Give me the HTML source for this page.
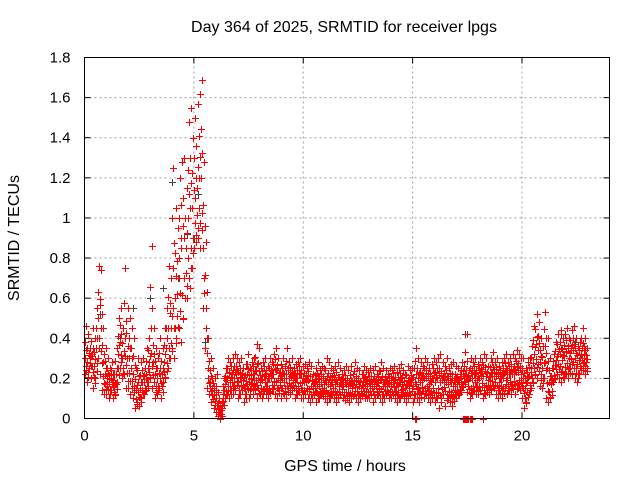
<!DOCTYPE html>
<html><head><meta charset="utf-8"><style>
body{margin:0;background:#fff}
svg{display:block;font-family:"Liberation Sans",sans-serif}
</style></head><body>
<svg id="chart" width="640" height="480" viewBox="0 0 640 480">
<rect width="640" height="480" fill="#fff"/>
<text x="344" y="32" font-size="16" text-anchor="middle">Day 364 of 2025, SRMTID for receiver lpgs</text>
<text x="19" y="238" font-size="16" text-anchor="middle" transform="rotate(-90 19 238)">SRMTID / TECUs</text>
<text x="345" y="471" font-size="16" text-anchor="middle">GPS time / hours</text>
<g id="grid"></g>
<g id="ticks"></g>
<g id="marks"></g>
<rect x="84.5" y="57.5" width="525" height="361" fill="none" stroke="#000" stroke-width="1"/>
</svg>
<script>
const xTicks=[0,5,10,15,20];
const yTicks=[0,0.2,0.4,0.6,0.8,1,1.2,1.4,1.6,1.8];
const yTickLabels=["0","0.2","0.4","0.6","0.8","1","1.2","1.4","1.6","1.8"];
const binHours=0.1;
const hiVals=[.46,.42,.35,.45,.40,.55,.76,.74,.45,.35,.30,.25,.28,.22,.35,.50,.55,.45,.75,.55,.50,.45,.40,.25,.30,.28,.30,.25,.35,.40,.86,.45,.35,.30,.40,.35,.45,.55,.76,.70,1.25,1.05,.95,1.20,1.28,1.30,1.15,1.48,1.55,1.40,1.50,1.57,1.62,1.69,1.28,.88,.40,.30,.25,.20,.22,.10,.08,.20,.25,.30,.28,.30,.32,.30,.28,.30,.25,.27,.32,.25,.28,.30,.37,.35,.25,.28,.30,.26,.30,.28,.32,.35,.30,.27,.30,.26,.35,.28,.30,.25,.27,.28,.30,.26,.27,.25,.28,.26,.22,.25,.28,.24,.26,.25,.30,.28,.25,.24,.26,.28,.25,.22,.24,.26,.24,.26,.22,.28,.25,.24,.22,.26,.24,.23,.25,.24,.26,.22,.24,.28,.25,.24,.22,.25,.24,.26,.23,.25,.27,.24,.22,.26,.24,.25,.25,.35,.30,.28,.26,.30,.28,.25,.27,.30,.28,.30,.32,.28,.26,.30,.25,.27,.28,.26,.25,.22,.28,.26,.42,.24,.30,.28,.30,.27,.30,.28,.32,.30,.26,.30,.33,.28,.30,.26,.28,.30,.32,.28,.30,.32,.30,.34,.32,.30,.30,.25,.28,.30,.36,.46,.52,.48,.40,.36,.53,.40,.30,.25,.32,.38,.42,.44,.40,.42,.45,.40,.44,.46,.40,.36,.38,.45,.40,.35];
const midVals=[.30,.28,.30,.32,.26,.35,.50,.45,.28,.22,.20,.18,.20,.16,.22,.32,.38,.30,.40,.30,.30,.25,.22,.14,.18,.15,.18,.18,.22,.28,.45,.28,.22,.20,.25,.22,.28,.35,.45,.45,.75,.60,.62,.80,.85,.90,.85,1.00,1.05,1.05,1.10,1.15,1.20,1.20,.85,.55,.25,.18,.15,.12,.10,.05,.04,.12,.17,.20,.18,.22,.20,.22,.18,.20,.19,.16,.22,.18,.20,.22,.24,.20,.18,.19,.22,.18,.20,.20,.22,.24,.20,.19,.20,.18,.22,.20,.21,.19,.18,.20,.22,.18,.18,.18,.19,.16,.16,.18,.17,.16,.18,.17,.18,.17,.16,.18,.17,.18,.16,.17,.16,.17,.16,.17,.15,.19,.17,.16,.15,.18,.17,.16,.17,.18,.16,.16,.18,.19,.16,.17,.16,.17,.16,.19,.16,.16,.18,.17,.15,.17,.16,.18,.16,.22,.20,.18,.19,.20,.20,.17,.18,.20,.18,.20,.18,.19,.19,.18,.17,.18,.16,.18,.17,.17,.20,.21,.24,.19,.20,.20,.22,.19,.20,.21,.21,.21,.19,.21,.23,.21,.21,.18,.20,.20,.23,.20,.22,.22,.22,.23,.23,.22,.20,.15,.18,.21,.25,.32,.37,.34,.28,.25,.36,.25,.18,.17,.25,.29,.32,.32,.29,.31,.33,.30,.34,.34,.30,.27,.30,.35,.32,.28];
const loVals=[.22,.18,.25,.20,.15,.20,.30,.22,.14,.12,.12,.10,.14,.10,.12,.18,.25,.20,.22,.15,.15,.12,.10,.05,.08,.06,.10,.12,.14,.18,.20,.15,.10,.12,.15,.10,.18,.20,.25,.30,.35,.30,.40,.45,.38,.50,.60,.60,.65,.75,.85,.88,.90,.85,.55,.35,.15,.12,.08,.05,.03,.01,.00,.05,.10,.12,.10,.14,.12,.15,.10,.12,.14,.08,.12,.10,.15,.12,.14,.10,.12,.10,.14,.12,.10,.13,.15,.12,.10,.14,.10,.12,.10,.15,.12,.14,.10,.12,.13,.10,.10,.12,.10,.08,.10,.12,.08,.10,.12,.11,.10,.08,.10,.12,.10,.08,.10,.12,.10,.09,.10,.08,.10,.12,.10,.08,.10,.12,.10,.10,.10,.12,.08,.10,.12,.10,.08,.10,.12,.10,.10,.12,.10,.08,.10,.12,.10,.08,.10,.12,.08,.12,.10,.08,.12,.10,.12,.10,.08,.10,.08,.10,.05,.10,.12,.06,.10,.08,.06,.10,.10,.12,.14,.16,.18,.13,.10,.12,.14,.12,.12,.14,.10,.12,.13,.12,.14,.15,.12,.10,.12,.10,.15,.12,.14,.12,.15,.12,.15,.14,.10,.05,.08,.12,.15,.18,.22,.20,.16,.15,.20,.10,.08,.10,.18,.20,.22,.20,.18,.20,.22,.20,.25,.22,.20,.18,.22,.25,.24,.22];
const grayTimes=[0.1,0.7,1.6,2.2,3.0,3.6,4.0,4.3,4.7,5.0,5.2,5.5,17.4,17.4,21.8,22.4];
const grayVals=[0.35,0.52,0.40,0.55,0.60,0.65,1.18,0.70,0.92,0.90,1.12,0.38,0.42,0.33,0.42,0.38];
const zeroTimes=[15.1,15.15,17.3,17.35,17.4,17.45,17.5,17.55,17.6,17.65,17.7,18.2];
const NS='http://www.w3.org/2000/svg';
const X0=84.5,X1=609.5,Y0=418.5,Y1=57.5;
function xs(t){return X0+(t/24)*(X1-X0);}
function ys(v){return Y0-(v/1.8)*(Y0-Y1);}
const grid=document.getElementById('grid'),ticks=document.getElementById('ticks'),marks=document.getElementById('marks');
function line(p,x1,y1,x2,y2,st,dash){const l=document.createElementNS(NS,'line');l.setAttribute('x1',x1);l.setAttribute('y1',y1);l.setAttribute('x2',x2);l.setAttribute('y2',y2);l.setAttribute('stroke',st);if(dash)l.setAttribute('stroke-dasharray',dash);p.appendChild(l);return l;}
yTicks.forEach((v,i)=>{const y=ys(v);
 if(i>0&&i<yTicks.length-1){const g=line(grid,X0,y,X1,y,'#a0a0a0','2,3');
 
 }
 line(ticks,X0,y,X0+6,y,'#000');line(ticks,X1,y,X1-6,y,'#000');
 const t=document.createElementNS(NS,'text');t.setAttribute('x',X0-14);t.setAttribute('y',y+5);t.setAttribute('font-size','15');t.setAttribute('text-anchor','end');t.textContent=yTickLabels[i];
 
 
 ticks.appendChild(t);});
xTicks.forEach(v=>{const x=xs(v);
 if(v>0){const g=line(grid,x,Y0,x,Y1,'#a0a0a0','2,3');
 
 }
 line(ticks,x,Y0,x,Y0-6,'#000');line(ticks,x,Y1,x,Y1+6,'#000');
 const t=document.createElementNS(NS,'text');t.setAttribute('x',x);t.setAttribute('y',Y0+22);t.setAttribute('font-size','15');t.setAttribute('text-anchor','middle');t.textContent=String(v);
 
 
 ticks.appendChild(t);});
let d={red:'',gray:''};
function cross(key,t,v){const x=Math.round(xs(t))+0.5,y=Math.round(ys(v))+0.5;d[key]+=`M${x-3.5} ${y}H${x+3.5}M${x} ${y-3.5}V${y+3.5}`;}
for(let i=0;i<hiVals.length;i++){const t=i*binHours;
 cross('red',t,loVals[i]);cross('red',t+0.033,midVals[i]);cross('red',t+0.066,hiVals[i]);
 cross('red',t+0.05,(loVals[i]+midVals[i])/2);cross('red',t+0.016,(midVals[i]+hiVals[i])/2);
 cross('red',t+0.08,(loVals[i]*3+midVals[i])/4);cross('red',t+0.09,(hiVals[i]+midVals[i]*3)/4);}
grayTimes.forEach((t,i)=>cross('gray',t,grayVals[i]));
zeroTimes.forEach(t=>cross('red',t,0));
const pg=document.createElementNS(NS,'path');pg.setAttribute('d',d.gray);pg.setAttribute('stroke','#404040');pg.setAttribute('fill','none');


marks.appendChild(pg);
const pr=document.createElementNS(NS,'path');pr.setAttribute('d',d.red);pr.setAttribute('stroke','#ff0000');pr.setAttribute('fill','none');


marks.appendChild(pr);
</script>
</body></html>
